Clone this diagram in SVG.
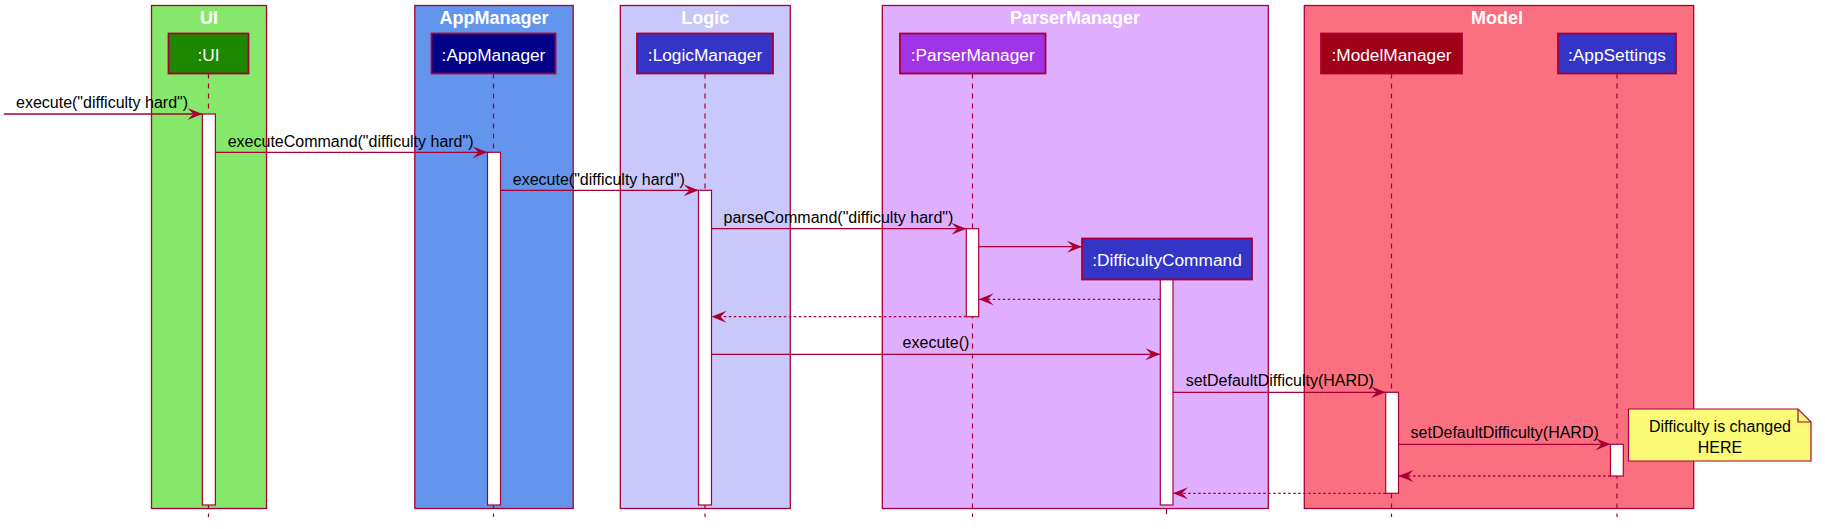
<svg xmlns="http://www.w3.org/2000/svg" width="1825" height="529" viewBox="0 0 1825 529">
<defs>
<style>
.frame{stroke:#A80036;stroke-width:1.3}
.ttl{font-family:"Liberation Sans",Arial,sans-serif;font-weight:bold;font-size:18px;fill:#FFFFFF;text-anchor:middle}
.part{stroke:#A80036;stroke-width:1.8}
.ptxt{font-family:"Liberation Sans",Arial,sans-serif;font-size:17.3px;fill:#FFFFFF;text-anchor:middle}
.life{stroke:#A80036;stroke-width:1.2;stroke-dasharray:5,5;fill:none}
.act{fill:#FFFFFF;stroke:#A80036;stroke-width:1.2}
.msg{stroke:#A80036;stroke-width:1.3;fill:none;marker-end:url(#ah)}
.ret{stroke:#A80036;stroke-width:1.3;fill:none;stroke-dasharray:2.5,2.5;marker-end:url(#ah)}
.lbl{font-family:"Liberation Sans",Arial,sans-serif;font-size:16px;fill:#000000}
.note{fill:#FBFB77;stroke:#A80036;stroke-width:1.2}
.ntxt{font-family:"Liberation Sans",Arial,sans-serif;font-size:16px;fill:#000000;text-anchor:middle}
</style>
<marker id="ah" viewBox="-16 -7 17 14" refX="0" refY="0" markerWidth="17" markerHeight="14" markerUnits="userSpaceOnUse" orient="auto">
<path d="M0,0 L-15,-6 L-9,0 L-15,6 Z" fill="#A80036"/>
</marker>
</defs>
<rect width="1825" height="529" fill="#FFFFFF"/>

<g id="box-UI">
<rect class="frame" x="151.5" y="5.5" width="115" height="503" fill="#86E86A"/>
<text class="ttl" x="209" y="24">UI</text>
</g>
<g id="box-AppManager">
<rect class="frame" x="414.8" y="5.5" width="158.4" height="503" fill="#6495ED"/>
<text class="ttl" x="494" y="24">AppManager</text>
</g>
<g id="box-Logic">
<rect class="frame" x="620.3" y="5.5" width="170" height="503" fill="#C8C8FA"/>
<text class="ttl" x="705.3" y="24">Logic</text>
</g>
<g id="box-ParserManager">
<rect class="frame" x="882.3" y="5.5" width="386" height="503" fill="#DFAEFF"/>
<text class="ttl" x="1075" y="24">ParserManager</text>
</g>
<g id="box-Model">
<rect class="frame" x="1304.3" y="5.5" width="389.4" height="503" fill="#FA7080"/>
<text class="ttl" x="1497" y="24">Model</text>
</g>

<g id="lifelines">
<line class="life" x1="208.5" y1="73.5" x2="208.5" y2="517"/>
<line class="life" x1="493.5" y1="73.5" x2="493.5" y2="517"/>
<line class="life" x1="705" y1="73.5" x2="705" y2="517"/>
<line class="life" x1="972.5" y1="73.5" x2="972.5" y2="517"/>
<line class="life" x1="1166.5" y1="279" x2="1166.5" y2="517"/>
<line class="life" x1="1391.5" y1="73.5" x2="1391.5" y2="517"/>
<line class="life" x1="1617" y1="73.5" x2="1617" y2="517"/>
</g>

<g id="activations">
<rect class="act" x="202.4" y="114" width="13" height="391"/>
<rect class="act" x="487.5" y="152.3" width="13" height="352.7"/>
<rect class="act" x="698.5" y="190.3" width="13" height="314.7"/>
<rect class="act" x="966.3" y="228.7" width="12.4" height="88"/>
<rect class="act" x="1160.3" y="279.3" width="12.7" height="225.7"/>
<rect class="act" x="1385.7" y="392.3" width="12.8" height="101"/>
<rect class="act" x="1610.5" y="444.3" width="12.8" height="31.7"/>
</g>

<g id="p-UI">
<rect class="part" x="168.5" y="33.5" width="80" height="40" fill="#1E8700"/>
<text class="ptxt" x="208.5" y="60.5">:UI</text>
</g>
<g id="p-AppManager">
<rect class="part" x="431.5" y="33.5" width="124" height="40" fill="#000088"/>
<text class="ptxt" x="493.5" y="60.5">:AppManager</text>
</g>
<g id="p-LogicManager">
<rect class="part" x="637" y="33.5" width="136" height="40" fill="#3434C6"/>
<text class="ptxt" x="705" y="60.5">:LogicManager</text>
</g>
<g id="p-ParserManager">
<rect class="part" x="900" y="33.5" width="145.5" height="40" fill="#A234E8"/>
<text class="ptxt" x="972.7" y="60.5">:ParserManager</text>
</g>
<g id="p-DifficultyCommand">
<rect class="part" x="1082" y="238.5" width="170" height="41" fill="#3434C6"/>
<text class="ptxt" x="1167" y="265.5">:DifficultyCommand</text>
</g>
<g id="p-ModelManager">
<rect class="part" x="1321" y="33.5" width="141" height="40" fill="#A00018"/>
<text class="ptxt" x="1391.5" y="60.5">:ModelManager</text>
</g>
<g id="p-AppSettings">
<rect class="part" x="1558" y="33.5" width="118" height="40" fill="#3434C6"/>
<text class="ptxt" x="1617" y="60.5">:AppSettings</text>
</g>

<g id="connectors">
<line class="msg" x1="3.8" y1="114" x2="202.4" y2="114"/>
<text class="lbl" x="16" y="108.3">execute("difficulty hard")</text>
<line class="msg" x1="215.4" y1="152.3" x2="487.5" y2="152.3"/>
<text class="lbl" x="227.7" y="146.7">executeCommand("difficulty hard")</text>
<line class="msg" x1="500.5" y1="190.3" x2="698.5" y2="190.3"/>
<text class="lbl" x="512.8" y="185">execute("difficulty hard")</text>
<line class="msg" x1="711.5" y1="228.7" x2="966.3" y2="228.7"/>
<text class="lbl" x="723.5" y="222.7">parseCommand("difficulty hard")</text>
<line class="msg" x1="978.7" y1="246.7" x2="1082" y2="246.7"/>
<line class="ret" x1="1160.3" y1="299.3" x2="978.7" y2="299.3"/>
<line class="ret" x1="966.3" y1="316.7" x2="711.5" y2="316.7"/>
<line class="msg" x1="711.5" y1="354.3" x2="1160.3" y2="354.3"/>
<text class="lbl" x="902.6" y="348">execute()</text>
<line class="msg" x1="1173" y1="392.3" x2="1385.7" y2="392.3"/>
<text class="lbl" x="1185.7" y="386">setDefaultDifficulty(HARD)</text>
<line class="msg" x1="1398.5" y1="444.3" x2="1610.5" y2="444.3"/>
<text class="lbl" x="1410.6" y="438">setDefaultDifficulty(HARD)</text>
<line class="ret" x1="1610.5" y1="476" x2="1398.5" y2="476"/>
<line class="ret" x1="1385.7" y1="493.3" x2="1173" y2="493.3"/>
</g>

<g id="note">
<path class="note" d="M1628.5,409 H1798 L1811,422 V461 H1628.5 Z"/>
<path d="M1798,409 V422 H1811" fill="none" stroke="#A80036" stroke-width="1.2"/>
<text class="ntxt" x="1720" y="432">Difficulty is changed</text>
<text class="ntxt" x="1720" y="452.5">HERE</text>
</g>
</svg>
